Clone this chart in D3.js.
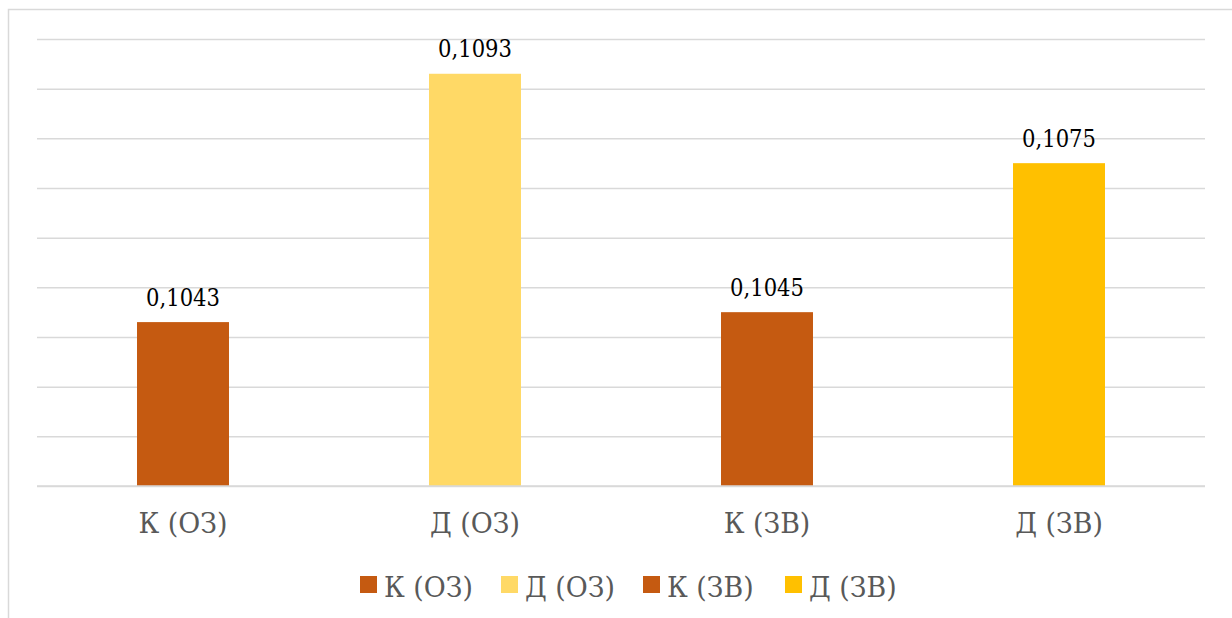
<!DOCTYPE html>
<html>
<head>
<meta charset="utf-8">
<script src="https://cdn.jsdelivr.net/npm/d3@7"></script>
<style>
  html, body { margin: 0; padding: 0; background: #fff; }
  svg { display: block; }
</style>
</head>
<body>
<svg id="chart" width="1232" height="618"></svg>
<script>
const categories = ["К (ОЗ)", "Д (ОЗ)", "К (ЗВ)", "Д (ЗВ)"];
const values = [0.1043, 0.1093, 0.1045, 0.1075];
const valueLabels = ["0,1043", "0,1093", "0,1045", "0,1075"];
const colors = ["#C55A11", "#FFD966", "#C55A11", "#FFC000"];
const yMin = 0.101, yMax = 0.110, yStep = 0.001;

const FONT = "DejaVu Serif";
const svg = d3.select("#chart");
const W = 1232, H = 618;
const plot = { left: 37, right: 1205, top: 39, bottom: 486 };

function measure(txt, size) {
  const t = svg.append("text").attr("font-family", FONT).attr("font-size", size).text(txt);
  const w = t.node().getComputedTextLength();
  t.remove();
  return w;
}
const valueSize = 23.8, catSize = 28;
const fVal = 74 / measure("0,1093", valueSize);
const fCat = 89 / measure("К (ОЗ)", catSize);

svg.append("rect").attr("width", W).attr("height", H).attr("fill", "#fff");
svg.append("rect")
  .attr("x", 8.5).attr("y", 9.5)
  .attr("width", W + 20).attr("height", H + 20)
  .attr("fill", "none").attr("stroke", "#D9D9D9").attr("stroke-width", 1.5);

const x = d3.scaleBand().domain(categories)
  .range([plot.left, plot.right]).paddingInner(0.685).paddingOuter(0.3425);
const y = d3.scaleLinear().domain([yMin, yMax]).range([plot.bottom, plot.top]);

const ticks = d3.range(0, Math.round((yMax - yMin) / yStep) + 1).map(i => yMin + i * yStep);
const yAxis = d3.axisLeft(y).tickValues(ticks).tickSize(-(plot.right - plot.left)).tickFormat("");
const gy = svg.append("g").attr("transform", `translate(${plot.left},0)`).call(yAxis);
gy.select(".domain").remove();
gy.selectAll(".tick line").attr("stroke", "#D9D9D9").attr("stroke-width", 1.5);

svg.append("g").selectAll("rect").data(categories).join("rect")
  .attr("x", d => x(d))
  .attr("y", (d, i) => y(values[i]))
  .attr("width", x.bandwidth())
  .attr("height", (d, i) => y(yMin) - y(values[i]))
  .attr("fill", (d, i) => colors[i]);

svg.append("line").attr("x1", plot.left).attr("x2", plot.right)
  .attr("y1", y(yMin)).attr("y2", y(yMin)).attr("stroke", "#D9D9D9").attr("stroke-width", 1.5);

svg.append("g").selectAll("text").data(categories).join("text")
  .attr("transform", (d, i) => `translate(${x(d) + x.bandwidth() / 2},${y(values[i]) - 16.5}) scale(${fVal},1)`)
  .attr("text-anchor", "middle")
  .attr("font-family", FONT)
  .attr("font-size", valueSize)
  .attr("fill", "#000")
  .text((d, i) => valueLabels[i]);

const xAxis = d3.axisBottom(x).tickSize(0).tickPadding(0);
const gx = svg.append("g").attr("transform", `translate(0,${plot.bottom})`).call(xAxis);
gx.select(".domain").remove();
gx.attr("font-family", FONT).attr("font-size", catSize);
gx.selectAll(".tick text")
  .attr("y", 0).attr("dy", 0)
  .attr("transform", `translate(0,46.5) scale(${fCat},1)`)
  .attr("fill", "#595959");

const legendX = [360, 501, 643, 785];
const lg = svg.append("g").selectAll("g").data(categories).join("g")
  .attr("transform", (d, i) => `translate(${legendX[i]},0)`);
lg.append("rect").attr("x", 0).attr("y", 576).attr("width", 17).attr("height", 17)
  .attr("fill", (d, i) => colors[i]);
lg.append("text")
  .attr("transform", `translate(24,596.5) scale(${fCat},1)`)
  .attr("font-family", FONT)
  .attr("font-size", catSize)
  .attr("fill", "#595959")
  .text(d => d);
</script>
</body>
</html>
